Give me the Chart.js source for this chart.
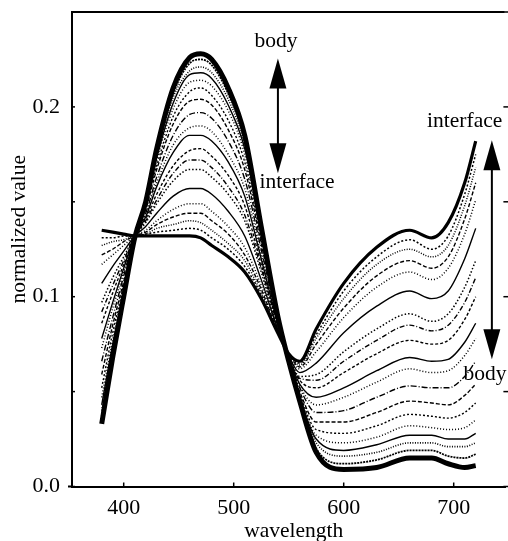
<!DOCTYPE html>
<html><head><meta charset="utf-8">
<script src="https://cdn.jsdelivr.net/npm/chart.js@4/dist/chart.umd.min.js"></script>
<style>html,body{margin:0;padding:0;background:#fff;}canvas{display:block;}</style>
</head><body>
<canvas id="c" width="508" height="541"></canvas>
<script>
// ---- data ----
const wavelengths = [380,390,400,410,420,430,445,460,470,480,495,510,525,540,550,560,575,600,630,660,680,695,710,720];
const interfaceCurve = [0.135,0.134,0.133,0.132,0.132,0.132,0.132,0.132,0.131,0.127,0.121,0.113,0.099,0.081,0.070,0.066,0.083,0.107,0.126,0.135,0.131,0.139,0.160,0.182];
const c1  = [0.131,0.131,0.132,0.132,0.133,0.134,0.135,0.136,0.135,0.131,0.125,0.116,0.101,0.081,0.070,0.065,0.080,0.103,0.121,0.130,0.125,0.132,0.154,0.175];
const c2  = [0.127,0.129,0.130,0.132,0.133,0.136,0.138,0.140,0.139,0.135,0.128,0.119,0.102,0.082,0.070,0.064,0.078,0.099,0.117,0.125,0.121,0.127,0.148,0.168];
const c3  = [0.122,0.125,0.129,0.132,0.134,0.138,0.142,0.144,0.144,0.140,0.133,0.122,0.104,0.082,0.070,0.063,0.075,0.094,0.111,0.119,0.115,0.121,0.141,0.160];
const c4  = [0.117,0.122,0.127,0.132,0.135,0.140,0.146,0.149,0.149,0.145,0.137,0.126,0.106,0.083,0.069,0.062,0.071,0.089,0.105,0.113,0.109,0.115,0.133,0.151];
const c5  = [0.107,0.116,0.124,0.132,0.137,0.144,0.153,0.157,0.157,0.154,0.145,0.132,0.109,0.083,0.069,0.060,0.065,0.081,0.095,0.103,0.099,0.103,0.120,0.136];
const c6  = [0.097,0.110,0.121,0.132,0.139,0.149,0.161,0.167,0.167,0.163,0.154,0.140,0.113,0.084,0.069,0.058,0.059,0.071,0.083,0.091,0.087,0.091,0.105,0.119];
const c7  = [0.092,0.106,0.119,0.132,0.140,0.151,0.165,0.172,0.172,0.168,0.158,0.143,0.115,0.085,0.068,0.057,0.056,0.066,0.077,0.085,0.082,0.085,0.097,0.110];
const c8  = [0.086,0.102,0.117,0.132,0.141,0.154,0.169,0.177,0.178,0.174,0.164,0.148,0.117,0.085,0.068,0.056,0.052,0.060,0.070,0.077,0.075,0.077,0.088,0.100];
const c9  = [0.078,0.097,0.115,0.132,0.142,0.158,0.176,0.185,0.185,0.182,0.171,0.153,0.120,0.086,0.068,0.054,0.047,0.052,0.061,0.068,0.066,0.067,0.076,0.086];
const c10 = [0.073,0.094,0.113,0.132,0.143,0.160,0.180,0.189,0.190,0.187,0.175,0.157,0.122,0.087,0.068,0.053,0.043,0.047,0.055,0.062,0.060,0.061,0.069,0.078];
const c11 = [0.066,0.089,0.111,0.132,0.144,0.163,0.185,0.196,0.197,0.194,0.182,0.162,0.125,0.087,0.067,0.052,0.039,0.040,0.047,0.053,0.052,0.052,0.058,0.066];
const c12 = [0.059,0.085,0.108,0.131,0.146,0.167,0.191,0.203,0.204,0.201,0.188,0.167,0.128,0.088,0.067,0.050,0.034,0.034,0.039,0.045,0.044,0.043,0.048,0.054];
const c13 = [0.052,0.081,0.106,0.131,0.147,0.169,0.195,0.208,0.210,0.206,0.193,0.171,0.130,0.088,0.067,0.049,0.030,0.028,0.032,0.038,0.037,0.036,0.039,0.044];
const c14 = [0.047,0.077,0.105,0.131,0.148,0.172,0.199,0.213,0.214,0.211,0.198,0.175,0.132,0.089,0.067,0.048,0.027,0.023,0.026,0.032,0.031,0.030,0.031,0.035];
const c15 = [0.043,0.075,0.103,0.131,0.148,0.173,0.202,0.217,0.218,0.215,0.201,0.178,0.133,0.089,0.066,0.047,0.025,0.019,0.022,0.027,0.027,0.025,0.025,0.028];
const c16 = [0.040,0.073,0.102,0.131,0.149,0.175,0.205,0.219,0.221,0.218,0.204,0.180,0.134,0.089,0.066,0.047,0.023,0.016,0.018,0.023,0.023,0.021,0.021,0.023];
const c17 = [0.037,0.070,0.101,0.131,0.149,0.176,0.207,0.223,0.225,0.222,0.207,0.183,0.136,0.090,0.066,0.046,0.020,0.012,0.014,0.019,0.019,0.016,0.015,0.017];
const bodyCurve = [0.033,0.068,0.100,0.131,0.150,0.178,0.210,0.226,0.228,0.225,0.210,0.185,0.137,0.090,0.066,0.045,0.018,0.009,0.010,0.015,0.015,0.012,0.010,0.011];

const xTicks = [400,500,600,700];
const yTicks = [0,0.05,0.1,0.15,0.2,0.25];
const yLabelled = [0,0.1,0.2];
const xTitle = 'wavelength';
const yTitle = 'normalized value';

// ---- styles ----
const SERIF = '"Liberation Serif", "Times New Roman", serif';
const series = [
  {d:c1,  dash:[2,2],       w:1.5},
  {d:c2,  dash:[1,1.5],     w:1.5},
  {d:c3,  dash:[4,2],       w:1.4},
  {d:c4,  dash:[1,2],       w:1.5},
  {d:c5,  dash:[],          w:1.4},
  {d:c6,  dash:[1.5,2],     w:1.5},
  {d:c7,  dash:[5,2,1,2],   w:1.4},
  {d:c8,  dash:[3,2],       w:1.4},
  {d:c9,  dash:[],          w:1.4},
  {d:c10, dash:[1,2],       w:1.5},
  {d:c11, dash:[6,2,1,2],   w:1.4},
  {d:c12, dash:[4,2],       w:1.4},
  {d:c13, dash:[2,2],       w:1.4},
  {d:c14, dash:[1,2],       w:1.5},
  {d:c15, dash:[],          w:1.4},
  {d:c16, dash:[1,1.5],     w:1.6},
  {d:c17, dash:[2,1],       w:1.8},
  {d:interfaceCurve, dash:[], w:3.2},
  {d:bodyCurve,      dash:[], w:5}
];
const datasets = series.map((s,i)=>({
  label: 'curve '+i,
  data: wavelengths.map((x,k)=>({x:x, y:s.d[k]})),
  borderColor:'#000',
  borderWidth:s.w,
  borderDash:s.dash,
  pointRadius:0,
  fill:false,
  cubicInterpolationMode:'monotone'
}));

// ---- annotations (in data coordinates) ----
const labels = [
  {text:'body',      x:518.8, y:0.2318},
  {text:'interface', x:523.4, y:0.1571},
  {text:'interface', x:675.8, y:0.1894},
  {text:'body',      x:708.8, y:0.0561}
];
const arrows = [
  {x:540.2, y1:0.2255, y2:0.165},
  {x:734.7, y1:0.1824, y2:0.0671}
];

const decor = {
  id:'decor',
  beforeDraw(chart){
    const c=chart.ctx; c.save(); c.fillStyle='#fff'; c.fillRect(0,0,chart.width,chart.height); c.restore();
  },
  afterDraw(chart){
    const ctx=chart.ctx, a=chart.chartArea, xs=chart.scales.x, ys=chart.scales.y;
    ctx.save();
    ctx.strokeStyle='#000'; ctx.fillStyle='#000';
    // top frame line and bottom axis extension
    ctx.lineWidth=2;
    ctx.beginPath(); ctx.moveTo(a.left-1,a.top); ctx.lineTo(a.right-1,a.top); ctx.stroke();
    ctx.beginPath(); ctx.moveTo(a.left-4,a.bottom); ctx.lineTo(a.left,a.bottom); ctx.stroke();
    // inward tick marks
    ctx.lineWidth=1.5;
    xTicks.forEach(v=>{const p=xs.getPixelForValue(v); ctx.beginPath(); ctx.moveTo(p,a.bottom); ctx.lineTo(p,a.bottom-4); ctx.stroke();});
    yTicks.forEach(v=>{const p=ys.getPixelForValue(v);
      ctx.beginPath(); ctx.moveTo(a.left,p); ctx.lineTo(a.left+3,p); ctx.stroke();
      ctx.beginPath(); ctx.moveTo(a.right-2,p); ctx.lineTo(a.right+3,p); ctx.stroke();});
    // arrows
    const HW=8.5, HL=30;
    arrows.forEach(ar=>{
      const px=xs.getPixelForValue(ar.x), t=ys.getPixelForValue(ar.y1), b=ys.getPixelForValue(ar.y2);
      ctx.lineWidth=2;
      ctx.beginPath(); ctx.moveTo(px,t+HL-2); ctx.lineTo(px,b-HL+2); ctx.stroke();
      ctx.beginPath(); ctx.moveTo(px,t); ctx.lineTo(px-HW,t+HL); ctx.lineTo(px+HW,t+HL); ctx.closePath(); ctx.fill();
      ctx.beginPath(); ctx.moveTo(px,b); ctx.lineTo(px-HW,b-HL); ctx.lineTo(px+HW,b-HL); ctx.closePath(); ctx.fill();
    });
    // text labels
    ctx.font='21.5px '+SERIF; ctx.textAlign='left'; ctx.textBaseline='alphabetic';
    labels.forEach(l=>ctx.fillText(l.text, xs.getPixelForValue(l.x), ys.getPixelForValue(l.y)));
    // axis titles
    ctx.textAlign='center';
    ctx.fillText(xTitle, (a.left+a.right)/2+5, 537);
    ctx.translate(25, (a.top+a.bottom)/2-20); ctx.rotate(-Math.PI/2);
    ctx.fillText(yTitle, 0, 0);
    ctx.restore();
  }
};

new Chart(document.getElementById('c'), {
  type:'line',
  data:{datasets:datasets},
  options:{
    responsive:false, animation:false, devicePixelRatio:1,
    layout:{padding:{top:12,right:2.6,left:0,bottom:0}},
    plugins:{legend:{display:false}, tooltip:{enabled:false}},
    scales:{
      x:{type:'linear', min:353, max:747,
        afterBuildTicks(s){ s.ticks = xTicks.map(v=>({value:v})); },
        afterFit(s){ s.height=54.5; s.paddingLeft=0; s.paddingRight=0; s.paddingTop=0; s.paddingBottom=0; },
        grid:{display:true, drawOnChartArea:false, drawTicks:false},
        border:{display:true, color:'#000', width:2},
        ticks:{color:'#000', padding:9, maxRotation:0, font:{family:SERIF, size:22}, callback:v=>String(v)},
        title:{display:false}
      },
      y:{type:'linear', min:0, max:0.25,
        afterBuildTicks(s){ s.ticks = yTicks.map(v=>({value:v})); },
        afterFit(s){ s.width=72; s.paddingTop=0; s.paddingBottom=0; s.paddingLeft=0; s.paddingRight=0; },
        grid:{display:true, drawOnChartArea:false, drawTicks:false},
        border:{display:true, color:'#000', width:2},
        ticks:{color:'#000', padding:12, font:{family:SERIF, size:22},
          callback:v=> yLabelled.some(t=>Math.abs(t-v)<1e-9) ? v.toFixed(1) : ''},
        title:{display:false}
      }
    }
  },
  plugins:[decor]
});
</script>
</body></html>
